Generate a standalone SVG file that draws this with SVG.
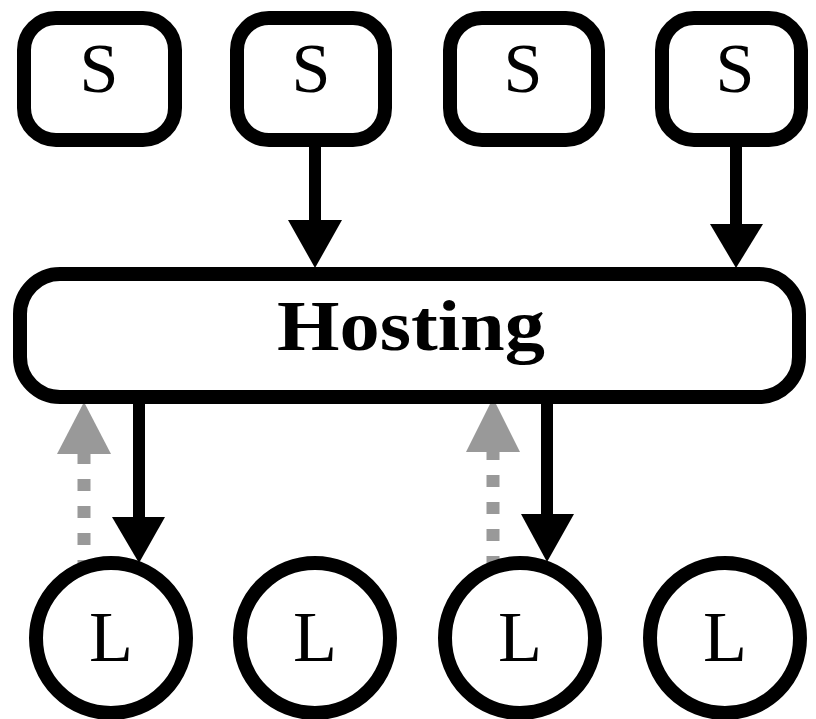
<svg xmlns="http://www.w3.org/2000/svg" width="816" height="719" viewBox="0 0 816 719">
<style>
.box{fill:#fff;stroke:#000;stroke-width:14}
.lab{font-family:"Liberation Serif",serif;fill:#000;text-anchor:middle}
.s{font-size:70px}
.l{font-size:72px}
.h{font-size:72px;font-weight:bold}
.solid{stroke:#000;stroke-width:12;fill:none}
.dash{stroke:#999;stroke-width:13;fill:none;stroke-dasharray:12 15}
.headB{fill:#000}
.headG{fill:#999}
</style>
<rect width="816" height="719" fill="#fff"/>
<g id="connectors">
  <line class="solid" x1="315" y1="146" x2="315" y2="225"/>
  <polygon class="headB" points="288,220 342,220 315,268"/>
  <line class="solid" x1="736" y1="146" x2="736" y2="228"/>
  <polygon class="headB" points="710,224 763,224 736,268"/>
  <line class="solid" x1="139" y1="402" x2="139" y2="522"/>
  <polygon class="headB" points="112,517 165,517 139,563"/>
  <line class="solid" x1="547" y1="402" x2="547" y2="518"/>
  <polygon class="headB" points="521,514 574,514 547,562"/>
  <line class="dash" x1="84" y1="572" x2="84" y2="450"/>
  <polygon class="headG" points="57,454 111,454 84,402"/>
  <line class="dash" x1="493" y1="568" x2="493" y2="448"/>
  <polygon class="headG" points="466,452 520,452 493,398"/>
</g>
<g id="s1"><rect class="box" x="24" y="18" width="151" height="122" rx="32"/><text class="lab s" x="99" y="92">S</text></g>
<g id="s2"><rect class="box" x="237" y="18" width="148" height="122" rx="32"/><text class="lab s" x="311" y="92">S</text></g>
<g id="s3"><rect class="box" x="450" y="18" width="148" height="122" rx="32"/><text class="lab s" x="523" y="92">S</text></g>
<g id="s4"><rect class="box" x="662" y="18" width="139" height="122" rx="32"/><text class="lab s" x="735" y="92">S</text></g>
<g id="hosting"><rect class="box" x="20" y="274" width="779" height="123" rx="40"/><text class="lab h" x="411" y="350" textLength="268" lengthAdjust="spacingAndGlyphs">Hosting</text></g>
<g id="l1"><circle class="box" cx="111" cy="638" r="75" stroke-width="13"/><text class="lab l" x="111" y="661">L</text></g>
<g id="l2"><circle class="box" cx="315" cy="638" r="75" stroke-width="13"/><text class="lab l" x="315" y="661">L</text></g>
<g id="l3"><circle class="box" cx="520" cy="638" r="75" stroke-width="13"/><text class="lab l" x="520" y="661">L</text></g>
<g id="l4"><circle class="box" cx="725" cy="638" r="75" stroke-width="13"/><text class="lab l" x="725" y="661">L</text></g>
</svg>
